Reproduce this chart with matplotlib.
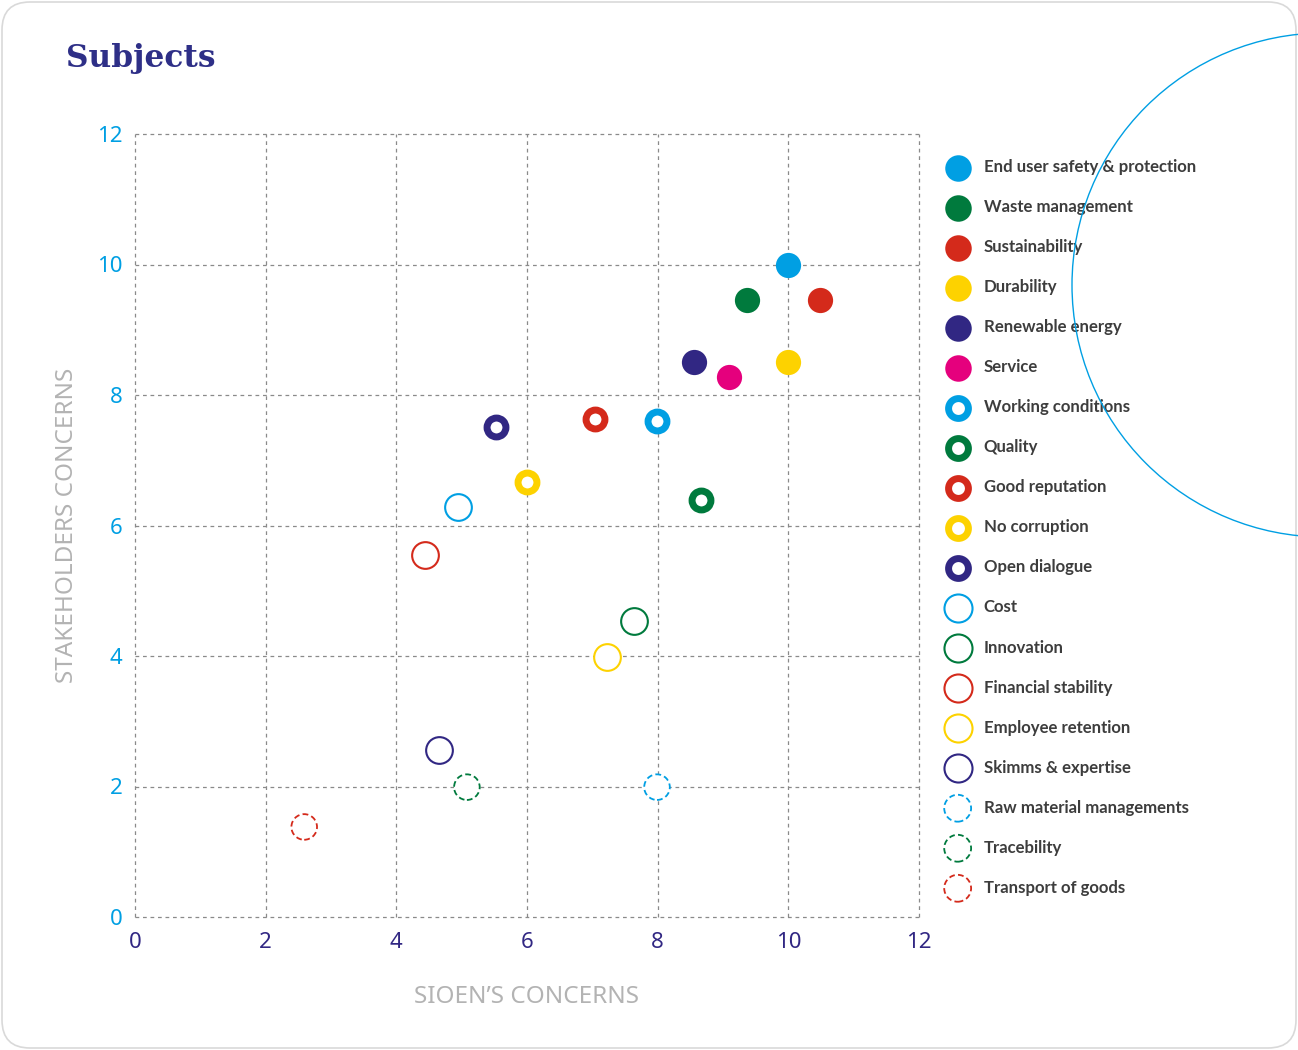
import numpy as np
import matplotlib
matplotlib.use("Agg")
from matplotlib import pyplot as plt
from matplotlib.patches import FancyBboxPatch, Circle
from matplotlib.transforms import IdentityTransform

# Subjects, in legend order
subjects = [
    "End user safety & protection", "Waste management", "Sustainability",
    "Durability", "Renewable energy", "Service", "Working conditions",
    "Quality", "Good reputation", "No corruption", "Open dialogue", "Cost",
    "Innovation", "Financial stability", "Employee retention",
    "Skimms & expertise", "Raw material managements", "Tracebility",
    "Transport of goods",
]
sioen = [10.0, 9.37, 10.49, 10.0, 8.56, 9.09, 7.99, 8.66, 7.04, 6.0, 5.53,
         4.94, 7.64, 4.44, 7.22, 4.65, 7.99, 5.08, 2.59]
stakeholders = [10.0, 9.46, 9.46, 8.5, 8.5, 8.28, 7.6, 6.39, 7.63, 6.67, 7.51,
                6.28, 4.54, 5.55, 3.98, 2.56, 1.99, 1.99, 1.38]
# marker kind: filled, thick ring, thin ring, dashed ring
kinds = ["filled"] * 6 + ["thick"] * 5 + ["thin"] * 5 + ["dashed"] * 3

BLUE = "#009FE3"
GREEN = "#007A3D"
RED = "#D42A1B"
YELLOW = "#FDD200"
NAVY = "#312783"
PINK = "#E5007D"
colors = [BLUE, GREEN, RED, YELLOW, NAVY, PINK,
          BLUE, GREEN, RED, YELLOW, NAVY,
          BLUE, GREEN, RED, YELLOW, NAVY,
          BLUE, GREEN, RED]

styles = {
    "filled": dict(s=330, lw=0),
    "thick": dict(s=185, lw=5.0),
    "thin": dict(s=370, lw=1.5),
    "dashed": dict(s=340, lw=1.3),
}

fig = plt.figure(figsize=(12.98, 10.5), dpi=100)
fig.patch.set_facecolor("white")

# rounded card border
fig.add_artist(FancyBboxPatch((2, 2), 1294, 1046,
                              boxstyle="round,pad=0,rounding_size=28",
                              transform=IdentityTransform(), facecolor="none",
                              edgecolor="#d9d9d9", lw=1.2, zorder=0))
# decorative circle top right
fig.add_artist(Circle((1324, 1050 - 285), 252, transform=IdentityTransform(),
                      facecolor="none", edgecolor=BLUE, lw=1.0, zorder=5))

ax = fig.add_axes([135 / 1298, 1 - 917 / 1050, 784 / 1298, 783 / 1050])

for name, x, y, kind, c in zip(subjects, sioen, stakeholders, kinds, colors):
    st = styles[kind]
    if kind == "filled":
        ax.scatter(x, y, s=st["s"], color=c, linewidths=0, label=name, zorder=3)
    else:
        ax.scatter(x, y, s=st["s"], facecolors="white", edgecolors=c,
                   linewidths=st["lw"],
                   linestyle=(0, (3.2, 1.8)) if kind == "dashed" else "solid",
                   label=name, zorder=3)

ax.set_xlim(0, 12)
ax.set_ylim(0, 12)
ax.set_xticks(np.arange(0, 13, 2))
ax.set_yticks(np.arange(0, 13, 2))
ax.grid(True, linestyle=(0, (3, 3)), color="#8a8a8a", lw=0.9)
for gl in ax.get_xgridlines() + ax.get_ygridlines():
    gl.set_clip_on(False)
ax.set_axisbelow(True)
for sp in ax.spines.values():
    sp.set_visible(False)
ax.tick_params(length=0)
ax.tick_params(axis="x", colors=NAVY, labelsize=16, pad=11)
ax.tick_params(axis="y", colors=BLUE, labelsize=16, pad=9)
for lab in ax.get_xticklabels() + ax.get_yticklabels():
    lab.set_family("Noto Sans")

ax.set_xlabel("SIOEN\u2019S CONCERNS", color="#b3b3b3", fontsize=17.5,
              family="Noto Sans", labelpad=23)
ax.set_ylabel("STAKEHOLDERS CONCERNS", color="#b3b3b3", fontsize=17.5,
              family="Noto Sans", labelpad=13)

leg = ax.legend(loc="upper left", bbox_to_anchor=(1.0268, 0.9765), frameon=False,
                labelspacing=1.43, handletextpad=0.9, borderaxespad=0,
                scatterpoints=1, handlelength=1.3, markerscale=1.05,
                prop=dict(family="Lato", weight="bold", size=12.1))
for t in leg.get_texts():
    t.set_color("#3d3d3d")

fig.text(66 / 1298, 1 - 58 / 1050, "Subjects", color="#2e2f87", fontsize=22.5,
         fontweight="bold", family="DejaVu Serif", va="center", ha="left")

fig.savefig("out.png", dpi=100)
